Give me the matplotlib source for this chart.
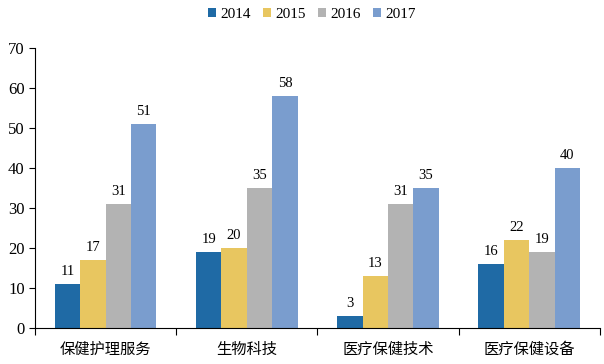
import numpy as np
import matplotlib.pyplot as plt

plt.rcParams['font.family'] = ['Liberation Serif', 'Noto Sans CJK SC']

categories = ['保健护理服务', '生物科技', '医疗保健技术', '医疗保健设备']
years = ['2014', '2015', '2016', '2017']
v2014 = [11, 19, 3, 16]
v2015 = [17, 20, 13, 22]
v2016 = [31, 35, 31, 19]
v2017 = [51, 58, 35, 40]
colors = ['#1F6AA5', '#E8C660', '#B3B3B3', '#7A9DCE']

fig = plt.figure(figsize=(6.04, 3.64), dpi=100)
ax = fig.add_axes([0.058, 0.099, 0.935, 0.769])

x = np.arange(len(categories))
w = 0.18
series = [v2014, v2015, v2016, v2017]
for i, (vals, yr, c) in enumerate(zip(series, years, colors)):
    pos = x + (i - 1.5) * w
    bars = ax.bar(pos, vals, w, color=c, label=yr)
    for b, v in zip(bars, vals):
        ax.text(b.get_x() + b.get_width() / 2, v + 1.5, str(v),
                ha='center', va='bottom', fontsize=10.5, family='Liberation Serif')

ax.set_xlim(-0.5, len(categories) - 0.5)
ax.set_ylim(0, 70)
ax.set_yticks(range(0, 71, 10))
ax.tick_params(axis='y', labelsize=12, length=4, direction='out')
ax.set_xticks(np.arange(-0.5, len(categories), 1.0))
ax.set_xticklabels([])
ax.set_xticks(x, minor=True)
ax.set_xticklabels(categories, minor=True, family='Noto Sans CJK SC', fontsize=11,
                   fontweight='medium')
ax.tick_params(axis='x', which='minor', length=0, pad=9)
ax.tick_params(axis='x', which='major', length=5)
ax.spines['top'].set_visible(False)
ax.spines['right'].set_visible(False)

ax.legend(loc='center', bbox_to_anchor=(0.49, 1.12), ncol=4, frameon=False,
          fontsize=11, handlelength=0.55, handleheight=0.55, handletextpad=0.25,
          columnspacing=0.8)

fig.savefig('out.png', dpi=100)
